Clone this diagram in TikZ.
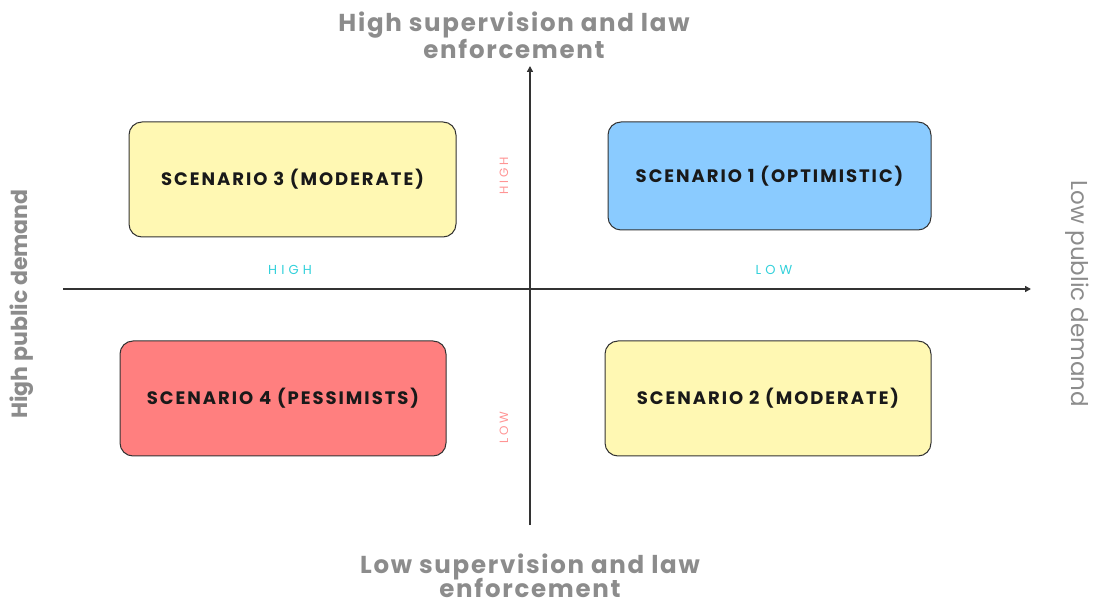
\documentclass[tikz,border=0pt]{standalone}
\usepackage{fontspec}
\setmainfont{Poppins}
\usetikzlibrary{arrows.meta}
\definecolor{axisgray}{HTML}{333333}
\definecolor{titlegray}{HTML}{8C8C8C}
\definecolor{paleyellow}{HTML}{FFF8B3}
\definecolor{skyblue}{HTML}{8ACBFF}
\definecolor{salmon}{HTML}{FF7F7F}
\definecolor{pinklabel}{HTML}{FF9494}
\definecolor{cyanlabel}{HTML}{33D1DB}
\tikzset{
  scenario/.style={draw=black!80, line width=1pt, rounded corners=13pt, inner sep=0pt,
    font=\fontsize{18}{20}\selectfont\bfseries\addfontfeature{LetterSpace=11}, text=black!90},
  axis/.style={draw=axisgray, line width=1.4pt, -{Triangle[length=6pt,width=6pt]}},
  axistitle/.style={text=titlegray, font=\fontsize{24.5}{25}\selectfont\bfseries\addfontfeature{LetterSpace=7}, align=center, inner sep=0pt},
  sidetitle/.style={text=titlegray, font=\fontsize{23}{25}\selectfont},
  vlevel/.style={text=pinklabel, font=\fontsize{12}{13}\selectfont\addfontfeature{LetterSpace=22}, rotate=90},
  hlevel/.style={text=cyanlabel, font=\fontsize{13}{14}\selectfont\addfontfeature{LetterSpace=32}},
}
\begin{document}
\begin{tikzpicture}[x=1pt,y=-1pt]
\useasboundingbox[fill=white] (0,0) rectangle (1093,601);
% axes
\coordinate (vbot) at (530,525);
\coordinate (vtop) at (530,66);
\coordinate (hleft) at (63,289);
\coordinate (hright) at (1031,289);
\draw[axis] (vbot) -- (vtop);
\draw[axis] (hleft) -- (hright);
% quadrant boxes
\node[scenario, fill=paleyellow, minimum width=327pt, minimum height=115pt] (s3) at (292.5,179.5) {SCENARIO 3 (MODERATE)};
\node[scenario, fill=skyblue, minimum width=323pt, minimum height=108pt] (s1) at (769.5,176) {SCENARIO 1 (OPTIMISTIC)};
\node[scenario, fill=salmon, minimum width=326pt, minimum height=115pt] (s4) at (283,398.5) {SCENARIO 4 (PESSIMISTS)};
\node[scenario, fill=paleyellow, minimum width=326pt, minimum height=115pt] (s2) at (768,398.5) {SCENARIO 2 (MODERATE)};
% axis titles
\node[axistitle] (ttop) at (514,35) {High supervision and law\\enforcement};
\node[axistitle, anchor=base] (tbot1) at (530,573) {Low supervision and law};
\node[axistitle, anchor=base] (tbot2) at (530,597) {enforcement};
\node[sidetitle, font=\fontsize{22}{25}\selectfont\bfseries, rotate=90] (tleft) at (22,304) {High public demand};
\node[sidetitle, rotate=-90] (tright) at (1077,294) {Low public demand};
% level labels
\node[vlevel] (vhigh) at (504,176) {HIGH};
\node[vlevel] (vlow) at (504,428) {LOW};
\node[hlevel] (hhigh) at (290,270) {HIGH};
\node[hlevel] (hlow) at (774,270) {LOW};
\end{tikzpicture}
\end{document}
